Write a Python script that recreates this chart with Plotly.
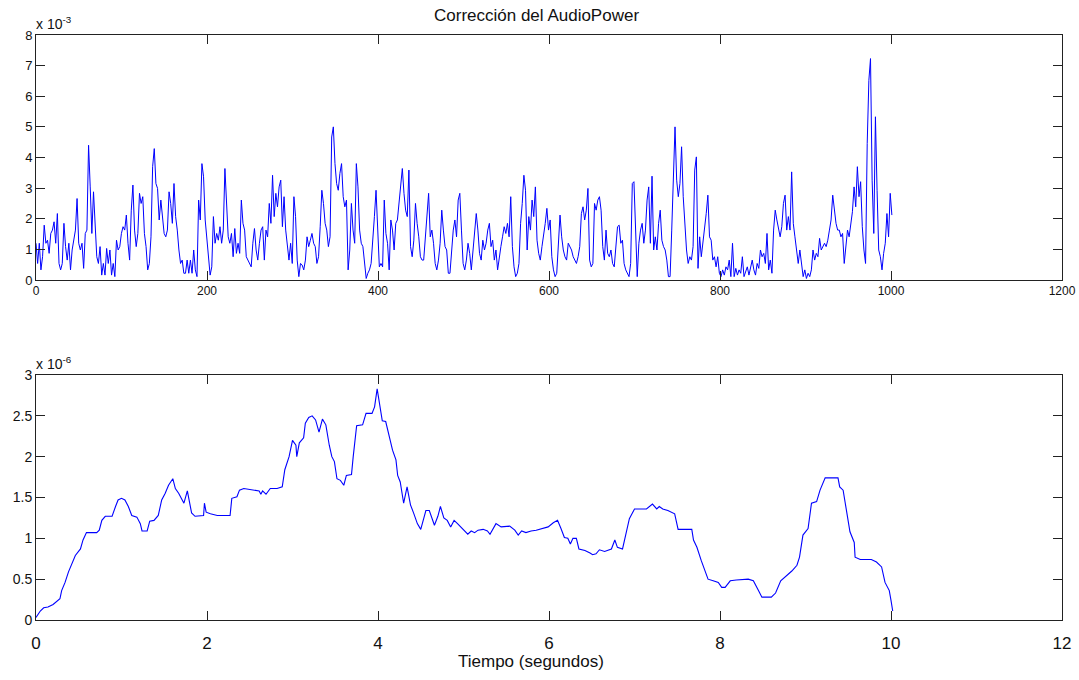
import numpy as np
import plotly.graph_objects as go

# Potencia de audio corregida por trama (unidades de 1e-3)
potencia_tramas = [
    1.20, 0.54, 1.20, 0.33, 0.76, 1.79, 1.20, 1.30, 0.87, 1.52,
    1.63, 1.90, 1.20, 2.17, 0.54, 0.33, 0.54, 1.85, 1.09, 0.65,
    1.20, 0.33, 0.98, 1.30, 1.63, 2.66, 1.20, 0.98, 1.20, 0.38,
    1.52, 1.63, 4.40, 3.04, 1.52, 2.88, 1.63, 0.76, 0.54, 1.09,
    0.16, 0.54, 0.16, 1.03, 0.54, 0.98, 0.16, 0.54, 0.11, 1.30,
    0.98, 1.09, 1.52, 1.74, 1.63, 2.12, 1.20, 0.65, 2.28, 3.10,
    1.63, 1.09, 1.52, 2.83, 2.50, 2.72, 1.52, 1.09, 0.33, 0.54,
    1.41, 3.70, 4.29, 3.15, 2.99, 1.96, 2.61, 2.07, 1.52, 1.41,
    1.63, 2.88, 2.50, 1.85, 3.15, 2.07, 1.63, 0.98, 0.54, 0.65,
    0.22, 0.22, 0.65, 0.22, 0.65, 0.22, 0.98, 0.33, 0.11, 2.61,
    1.96, 3.80, 3.37, 1.96, 1.30, 0.54, 0.16, 0.43, 2.07, 1.20,
    1.52, 1.30, 1.74, 1.20, 1.63, 3.64, 2.72, 1.41, 1.20, 1.52,
    0.76, 1.68, 0.87, 1.20, 0.87, 2.61, 1.85, 1.63, 0.76, 0.65,
    0.54, 0.43, 1.20, 1.68, 0.98, 0.65, 1.20, 1.63,
    1.74, 0.65, 1.63, 1.41, 2.50, 1.85, 3.42, 2.07, 2.83, 2.39,
    3.04, 3.26, 1.74, 2.72, 1.63, 1.20, 0.65, 1.20, 0.54, 2.72,
    2.07, 0.65, 0.11, 0.54, 0.49, 0.33, 0.65, 1.41, 1.09, 1.30,
    1.52, 1.20, 1.09, 0.54, 0.76, 1.74, 2.93, 2.50, 1.85, 1.63,
    1.09, 1.41, 4.67, 5.00, 3.80, 3.15, 2.93, 3.48, 3.80, 2.72,
    2.39, 2.61, 0.33, 0.98, 2.50, 1.63, 1.20, 3.80, 3.04, 1.63,
    1.20, 1.09, 0.54, 0.05, 0.22, 0.33, 0.54, 1.52, 2.07, 2.93,
    1.52, 0.43, 0.54, 0.43, 2.61, 1.52, 1.20, 0.33, 1.96, 1.63,
    0.98, 1.85, 1.96, 2.50, 2.93, 3.64, 2.83, 2.28, 2.07, 3.59,
    1.09, 0.76, 1.30, 2.50, 1.85, 1.41, 0.76, 0.65, 0.65, 1.41,
    2.28, 2.83, 1.41, 1.63, 1.20, 0.54, 0.33, 0.65, 1.20, 2.28,
    1.63, 1.09, 0.98, 0.22, 0.22, 0.87, 1.63, 1.96, 1.41, 2.61,
    2.83, 1.63, 0.54, 0.33, 0.65, 1.20, 0.87, 0.33, 0.98, 1.63,
    2.17, 1.63,
    0.87, 0.65, 1.30, 0.98, 1.20, 1.63, 1.85, 1.09, 1.30, 0.65,
    0.98, 0.33, 0.76, 1.09, 1.41, 1.74, 1.52, 1.85, 1.41, 2.72,
    1.09, 0.43, 0.11, 0.22, 0.54, 1.85, 2.50, 3.42, 2.93, 0.98,
    2.07, 1.63, 2.61, 2.07, 3.04, 1.30, 0.87, 0.65, 1.09, 1.41,
    1.85, 2.34, 1.63, 1.96, 0.76, 0.33, 0.11, 0.22, 1.20, 2.12,
    1.41, 0.98, 0.76, 0.65, 1.20, 1.09, 0.98, 0.76, 0.65, 0.54,
    0.76, 1.09, 2.17, 2.39, 1.96, 2.28, 2.99, 0.65, 0.43, 0.54,
    2.50, 2.28, 2.61, 2.72, 2.28, 1.09, 0.65, 1.63, 0.87, 0.76,
    0.98, 0.54, 0.43, 0.98, 1.74, 1.79, 1.20, 1.30, 0.54, 0.33,
    0.22, 0.11, 0.54, 3.15, 3.21, 1.41, 0.11, 1.20, 1.63, 1.85,
    1.20, 1.63, 2.61, 3.04, 1.20, 3.39, 0.98, 1.41, 0.98, 1.85,
    2.28, 1.30, 1.09, 0.98, 0.65, 0.11, 0.11, 1.63, 3.70, 5.00,
    3.26, 2.72, 3.15, 4.35, 2.72, 1.85, 0.98, 0.54, 0.76, 0.65,
    1.09, 3.59, 4.02,
    0.38, 1.41, 0.76, 1.20, 1.63, 2.17, 2.77, 1.41, 1.30, 0.65,
    0.76, 0.43, 0.76, 0.22, 0.11, 0.33, 0.16, 0.43, 0.33, 0.65,
    0.11, 1.20, 0.11, 0.38, 0.16, 0.33, 0.22, 0.76, 0.11, 0.27,
    0.43, 0.16, 0.38, 0.65, 0.33, 0.16, 0.54, 0.38, 0.98, 0.76,
    0.87, 0.54, 1.52, 0.33, 0.65, 0.22, 1.63, 2.28, 1.96, 1.63,
    1.41, 1.74, 2.50, 2.77, 1.63, 2.07, 1.63, 3.53, 1.85, 1.41,
    0.87, 0.54, 0.98, 0.43, 0.11, 0.33, 0.05, 0.22, 0.11, 0.33,
    0.98, 0.65, 0.87, 0.76, 1.36, 0.98, 1.09, 1.20, 1.09, 1.30,
    1.63, 1.96, 2.77, 2.28, 1.85, 1.63, 1.63, 1.41, 1.52, 0.54,
    1.20, 1.63, 1.41, 1.85, 2.23, 3.04, 2.39, 3.70, 2.72, 3.21,
    1.74, 0.98, 0.54, 4.46, 6.52, 7.23, 3.26, 1.52, 5.33, 2.93,
    0.98, 0.76, 0.33, 0.87, 1.20, 2.17, 1.41, 2.83, 2.12,
]
ultima_trama = 1001

# Potencia suavizada frente al tiempo (unidades de 1e-6)
tiempo_s = [
    0, 0.05, 0.09, 0.14, 0.20, 0.24, 0.28, 0.30, 0.34, 0.38,
    0.42, 0.46, 0.52, 0.55, 0.59, 0.65, 0.71, 0.74, 0.77, 0.81,
    0.89, 0.93, 0.96, 1.00, 1.04, 1.08, 1.12, 1.18, 1.22, 1.24,
    1.30, 1.33, 1.38, 1.43, 1.47, 1.51, 1.55, 1.60, 1.63, 1.67,
    1.73, 1.77, 1.79, 1.82, 1.86, 1.92, 1.96, 1.97, 1.99, 2.04,
    2.12, 2.27, 2.29, 2.35, 2.38, 2.43, 2.55, 2.61, 2.63, 2.65,
    2.69, 2.74, 2.82, 2.88, 2.91, 2.96, 3.00, 3.04, 3.05, 3.08,
    3.13, 3.15, 3.19, 3.23, 3.27, 3.31, 3.35, 3.39, 3.43, 3.46,
    3.49, 3.52, 3.56, 3.60, 3.63, 3.69, 3.71, 3.75, 3.82, 3.86,
    3.93, 3.96, 3.99, 4.01, 4.05, 4.09, 4.13, 4.17, 4.21, 4.23,
    4.26, 4.28, 4.30, 4.34, 4.36, 4.38, 4.42, 4.46, 4.50, 4.56,
    4.60, 4.66, 4.70, 4.73, 4.77, 4.81, 4.85, 4.89, 4.93,
    4.99, 5.05, 5.09, 5.13, 5.17, 5.23, 5.28, 5.31, 5.38, 5.44,
    5.54, 5.60, 5.64, 5.68, 5.73, 5.79, 5.85, 5.93, 5.99, 6.05,
    6.10, 6.14, 6.18, 6.22, 6.25, 6.28, 6.32, 6.35, 6.42, 6.48,
    6.51, 6.55, 6.59, 6.65, 6.73, 6.77, 6.80, 6.86, 6.90, 6.94,
    7.00, 7.08, 7.14, 7.21, 7.26, 7.29, 7.33, 7.39, 7.47, 7.51,
    7.67, 7.69, 7.73, 7.78, 7.82, 7.86, 7.92, 7.98, 8.02, 8.06,
    8.12, 8.19, 8.33, 8.39, 8.45, 8.49, 8.60, 8.65, 8.71, 8.77,
    8.84, 8.90, 8.93, 8.97, 9.03, 9.07, 9.13, 9.17, 9.23, 9.38,
    9.40, 9.44, 9.49, 9.52, 9.57, 9.58, 9.64, 9.77, 9.83, 9.89,
    9.93, 9.98, 10.00, 10.02,
]
potencia_suave = [
    0.03, 0.11, 0.15, 0.16, 0.19, 0.22, 0.26, 0.36, 0.46, 0.59,
    0.69, 0.79, 0.87, 0.98, 1.07, 1.07, 1.07, 1.10, 1.22, 1.27,
    1.27, 1.39, 1.47, 1.49, 1.47, 1.39, 1.28, 1.26, 1.18, 1.09,
    1.09, 1.21, 1.22, 1.28, 1.47, 1.55, 1.65, 1.73, 1.61, 1.55,
    1.43, 1.58, 1.47, 1.31, 1.27, 1.28, 1.28, 1.43, 1.32, 1.30,
    1.28, 1.28, 1.49, 1.51, 1.59, 1.61, 1.59, 1.58, 1.54, 1.58,
    1.54, 1.61, 1.61, 1.63, 1.84, 2.00, 2.20, 2.14, 2.00, 2.17,
    2.23, 2.41, 2.48, 2.50, 2.45, 2.30, 2.46, 2.39, 2.14, 2.00,
    1.94, 1.73, 1.71, 1.65, 1.77, 1.78, 2.00, 2.38, 2.39, 2.53,
    2.53, 2.61, 2.83, 2.68, 2.44, 2.43, 2.25, 2.08, 1.96, 1.77,
    1.69, 1.53, 1.43, 1.63, 1.53, 1.41, 1.30, 1.18, 1.11, 1.34,
    1.34, 1.16, 1.27, 1.39, 1.25, 1.22, 1.14, 1.22, 1.18,
    1.12, 1.05, 1.09, 1.07, 1.10, 1.11, 1.09, 1.05, 1.18, 1.14,
    1.15, 1.10, 1.04, 1.09, 1.07, 1.09, 1.10, 1.12, 1.14, 1.19,
    1.22, 1.12, 1.01, 1.00, 0.93, 1.00, 1.00, 0.87, 0.85, 0.82,
    0.80, 0.81, 0.86, 0.84, 0.87, 0.98, 0.89, 0.87, 1.06, 1.24,
    1.36, 1.36, 1.36, 1.42, 1.36, 1.39, 1.36, 1.34, 1.30, 1.11,
    1.11, 0.98, 0.89, 0.73, 0.61, 0.50, 0.48, 0.46, 0.40, 0.40,
    0.48, 0.49, 0.50, 0.48, 0.36, 0.28, 0.28, 0.33, 0.48, 0.53,
    0.60, 0.67, 0.77, 1.04, 1.12, 1.43, 1.45, 1.59, 1.74, 1.74,
    1.63, 1.59, 1.26, 1.08, 0.95, 0.77, 0.74, 0.74, 0.71, 0.65,
    0.46, 0.36, 0.24, 0.11,
]

ticks_tramas = [0, 200, 400, 600, 800, 1000, 1200]
ticks_tiempo = [0, 2, 4, 6, 8, 10, 12]

tramas = np.linspace(0, ultima_trama, len(potencia_tramas))

FUENTE = "Liberation Sans, Arial, Helvetica, sans-serif"
AZUL = "#0000ff"
TINTA = "#111111"

fig = go.Figure()
fig.add_trace(go.Scatter(x=tramas, y=potencia_tramas, mode="lines",
                         line=dict(color=AZUL, width=1),
                         xaxis="x", yaxis="y", hoverinfo="skip"))
fig.add_trace(go.Scatter(x=tiempo_s, y=potencia_suave, mode="lines",
                         line=dict(color=AZUL, width=1.1),
                         xaxis="x2", yaxis="y2", hoverinfo="skip"))

eje = dict(showline=True, linecolor="#222222", linewidth=1, mirror="ticks",
           ticks="inside", ticklen=9, tickcolor="#222222", tickwidth=1,
           showgrid=False, zeroline=False, automargin=False)

fig.update_layout(
    width=1079, height=680, autosize=False,
    margin=dict(l=36, r=17, t=35, b=60, autoexpand=False),
    paper_bgcolor="white", plot_bgcolor="white",
    showlegend=False,
    font=dict(family=FUENTE, color=TINTA),
    xaxis=dict(eje, domain=[0, 1], anchor="y", range=[0, 1200],
               tickvals=ticks_tramas, tickfont=dict(size=12)),
    yaxis=dict(eje, domain=[0.5812, 1], anchor="x", range=[0, 8],
               dtick=1, tickfont=dict(size=13)),
    xaxis2=dict(eje, domain=[0, 1], anchor="y2", range=[0, 12],
                tickvals=ticks_tiempo, tickfont=dict(size=17),
                ticklabelstandoff=8),
    yaxis2=dict(eje, domain=[0, 0.4188], anchor="x2", range=[0, 3],
                dtick=0.5, tickfont=dict(size=14)),
    annotations=[
        dict(text="Corrección del AudioPower", x=0.4883, y=1.0333,
             xref="paper", yref="paper", xanchor="center", yanchor="middle",
             showarrow=False, font=dict(size=17, family=FUENTE, color=TINTA)),
        dict(text="Tiempo (segundos)", x=0.4825, y=-0.0701,
             xref="paper", yref="paper", xanchor="center", yanchor="middle",
             showarrow=False, font=dict(size=17, family=FUENTE, color=TINTA)),
        dict(text="x 10<sup>-3</sup>", x=0.0, y=1.0, xref="paper", yref="paper",
             xanchor="left", yanchor="bottom", showarrow=False, xshift=-2, yshift=1,
             font=dict(size=14, family=FUENTE, color=TINTA)),
        dict(text="x 10<sup>-6</sup>", x=0.0, y=0.4188, xref="paper", yref="paper",
             xanchor="left", yanchor="bottom", showarrow=False, xshift=-2, yshift=1,
             font=dict(size=14, family=FUENTE, color=TINTA)),
    ],
)

fig.write_html("out.html")
